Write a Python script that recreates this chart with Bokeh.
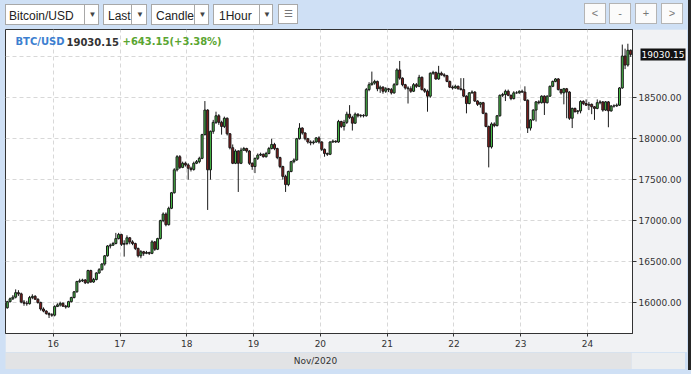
import pandas as pd
from bokeh.plotting import figure
from bokeh.models import (ColumnDataSource, Range1d, FixedTicker, NumeralTickFormatter,
                          DatetimeTickFormatter, Label, Div, LinearAxis)
from bokeh.layouts import column
from bokeh.embed import file_html
from bokeh.resources import INLINE

# ---------------- data (hourly BTC/USD candles) ----------------
first_time = "2020-11-15 07:00"
first_open = 15935
closes = [16010, 16045, 16065, 16120, 16105, 16005, 15990, 15985, 16060, 16075,
          16040, 16000, 15920, 15895, 15865, 15850, 15845, 15950, 15970, 15990,
          15955, 15945, 16010, 16060, 16130, 16255, 16265, 16275, 16240, 16390,
          16250, 16280, 16360, 16400, 16470, 16570, 16690, 16700, 16720, 16780,
          16830, 16710, 16720, 16790, 16740, 16720, 16660, 16570, 16620, 16600,
          16610, 16600, 16740, 16650, 16780, 17000, 17080, 16950, 17150, 17340,
          17620, 17780, 17650, 17700, 17680, 17640, 17625, 17700, 17720, 17760,
          18050, 18350, 17620, 18090, 18200, 18280, 18200, 18150, 18250, 18060,
          17890, 17700, 17850, 17700, 17860, 17880, 17850, 17700, 17660, 17760,
          17800, 17810, 17780, 17820, 17880, 17930, 17880, 17770, 17660, 17540,
          17440, 17600, 17720, 17740, 18000, 18130, 18070, 18000, 17960, 17950,
          17960, 18010, 17960, 17870, 17820, 17810, 17960, 17970, 17960, 18210,
          18150, 18200, 18300, 18260, 18190, 18300, 18280, 18285, 18280, 18600,
          18660, 18680, 18700, 18610, 18630, 18580, 18610, 18600, 18560, 18660,
          18840, 18740, 18660, 18620, 18610, 18580, 18660, 18640, 18750, 18600,
          18580, 18520, 18800, 18810, 18730, 18800, 18780, 18770, 18700, 18630,
          18620, 18640, 18610, 18600, 18520, 18430, 18560, 18570, 18460, 18420,
          18440, 18310, 18150, 17900, 18180, 18160, 18280, 18530, 18540, 18580,
          18530, 18490, 18560, 18560, 18580, 18570, 18470, 18130, 18230, 18350,
          18450, 18440, 18520, 18440, 18520, 18640, 18700, 18730, 18600, 18560,
          18610, 18570, 18250, 18370, 18330, 18340, 18455, 18430, 18410, 18420,
          18390, 18370, 18440, 18450, 18350, 18450, 18340, 18400, 18400, 18410,
          18620, 19010, 18900, 19080, 19030.15]
highs = [16020, 16060, 16090, 16160, 16150, 16120, 16030, 16020, 16080, 16100,
         16090, 16050, 16010, 15940, 15905, 15880, 15870, 15965, 15990, 16010,
         16000, 15970, 16020, 16070, 16140, 16265, 16290, 16290, 16285, 16400,
         16400, 16300, 16370, 16420, 16480, 16580, 16700, 16720, 16740, 16850,
         16850, 16840, 16760, 16820, 16800, 16760, 16730, 16670, 16640, 16630,
         16630, 16620, 16760, 16750, 16790, 17010, 17100, 17100, 17170, 17350,
         17640, 17800, 17800, 17720, 17720, 17700, 17660, 17720, 17740, 17780,
         18060, 18460, 18360, 18100, 18230, 18330, 18300, 18220, 18270, 18260,
         18070, 17930, 17870, 17860, 17890, 17900, 17890, 17860, 17710, 17770,
         17820, 17830, 17820, 17840, 17900, 18000, 17950, 17890, 17780, 17670,
         17560, 17610, 17730, 17760, 18010, 18190, 18140, 18080, 18010, 17980,
         17980, 18020, 18030, 17970, 17880, 17830, 17970, 17990, 17980, 18230,
         18220, 18230, 18330, 18410, 18280, 18320, 18310, 18300, 18300, 18620,
         18690, 18820, 18720, 18710, 18650, 18640, 18630, 18620, 18620, 18680,
         18860, 18950, 18750, 18670, 18640, 18640, 18680, 18680, 18780, 18760,
         18620, 18600, 18810, 18830, 18820, 18890, 18820, 18800, 18780, 18710,
         18650, 18660, 18650, 18740, 18740, 18530, 18570, 18590, 18580, 18470,
         18450, 18450, 18320, 18160, 18200, 18200, 18290, 18540, 18560, 18600,
         18600, 18540, 18580, 18580, 18590, 18600, 18640, 18480, 18240, 18360,
         18460, 18470, 18530, 18530, 18530, 18650, 18710, 18740, 18740, 18610,
         18620, 18620, 18580, 18380, 18380, 18350, 18470, 18470, 18480, 18450,
         18430, 18400, 18480, 18470, 18460, 18460, 18460, 18410, 18420, 18430,
         18630, 19150, 19100, 19160, 19090]
lows = [15925, 16000, 16030, 16050, 16080, 15990, 15960, 15960, 15975, 16040,
        16030, 15985, 15900, 15880, 15850, 15810, 15825, 15830, 15945, 15950,
        15945, 15925, 15940, 16000, 16050, 16120, 16240, 16250, 16225, 16230,
        16240, 16240, 16270, 16350, 16390, 16450, 16560, 16660, 16690, 16710,
        16770, 16690, 16560, 16700, 16710, 16700, 16640, 16550, 16540, 16570,
        16590, 16580, 16590, 16630, 16640, 16770, 16980, 16930, 16940, 17140,
        17330, 17600, 17630, 17640, 17660, 17500, 17600, 17610, 17690, 17700,
        17750, 18040, 17130, 17500, 18060, 18180, 18170, 18050, 18130, 18040,
        17870, 17690, 17690, 17350, 17690, 17850, 17830, 17680, 17620, 17580,
        17740, 17790, 17770, 17770, 17810, 17870, 17860, 17750, 17640, 17500,
        17350, 17420, 17590, 17700, 17730, 17990, 18050, 17980, 17940, 17920,
        17930, 17950, 17940, 17850, 17780, 17790, 17800, 17950, 17950, 17950,
        18130, 18100, 18180, 18240, 18100, 18180, 18260, 18260, 18260, 18270,
        18580, 18650, 18660, 18580, 18560, 18550, 18560, 18570, 18540, 18550,
        18650, 18720, 18640, 18600, 18430, 18560, 18570, 18620, 18630, 18590,
        18560, 18330, 18500, 18780, 18720, 18720, 18770, 18750, 18690, 18620,
        18600, 18610, 18600, 18590, 18510, 18310, 18420, 18550, 18450, 18400,
        18380, 18300, 18140, 17650, 17880, 18140, 18150, 18270, 18510, 18460,
        18520, 18470, 18480, 18550, 18550, 18560, 18460, 18070, 18100, 18220,
        18210, 18420, 18430, 18290, 18430, 18510, 18630, 18690, 18590, 18540,
        18420, 18250, 18230, 18130, 18320, 18300, 18310, 18410, 18400, 18350,
        18300, 18230, 18360, 18420, 18330, 18340, 18140, 18330, 18380, 18390,
        18400, 18610, 18850, 18880, 19000]
opens = [first_open] + closes[:-1]

y_ticks = [16000, 16500, 17000, 17500, 18000, 18500]
grid_levels = [16000, 16500, 17000, 17500, 18000, 18500, 19000]
day_ticks = ["2020-11-%02d" % d for d in range(16, 25)]
symbol = "BTC/USD"
last_price = 19030.15
change_text = "+643.15(+3.38%)"
month_text = "Nov/2020"

# ---------------- colours ----------------
BLUE = "#cfe0f5"
BORDER_GRAY = "#f1f2f4"
BAND_GRAY = "#e2e3e5"
UP = "#46b946"
DOWN = "#8b1c1c"
EDGE = "#1a1a1a"
FONT = "DejaVu Sans"

times = pd.date_range(first_time, periods=len(closes), freq="h") + pd.Timedelta(minutes=30)
src = ColumnDataSource(dict(
    x=times,
    high=highs, low=lows,
    top=[max(o, c) for o, c in zip(opens, closes)],
    bottom=[min(o, c) for o, c in zip(opens, closes)],
    color=[UP if c >= o else DOWN for o, c in zip(opens, closes)],
))

x_start = pd.Timestamp("2020-11-15 06:51")
x_end = pd.Timestamp("2020-11-24 16:10")
y_lo, y_hi = 15621, 19334

p = figure(frame_width=627, frame_height=304, x_axis_type="datetime", y_axis_location="right",
           x_range=Range1d(x_start, x_end), y_range=Range1d(y_lo, y_hi),
           output_backend="svg", toolbar_location=None,
           min_border_left=0, min_border_top=0, min_border_right=53, min_border_bottom=19,
           border_fill_color=BORDER_GRAY, background_fill_color="white",
           outline_line_color="#333333", outline_line_width=1, margin=(0, 6, 0, 5))

p.segment(x0="x", y0="high", x1="x", y1="low", source=src, line_color=EDGE, line_width=1)
p.vbar(x="x", width=0.72 * 3600 * 1000, top="top", bottom="bottom", source=src,
       fill_color="color", line_color=EDGE, line_width=1)

day_ms = [pd.Timestamp(d).value // 10**6 for d in day_ticks]
p.xaxis.ticker = FixedTicker(ticks=day_ms)
p.xaxis.formatter = DatetimeTickFormatter(days="%d", hours="%d", months="%d")
p.yaxis.ticker = FixedTicker(ticks=y_ticks)
p.yaxis.formatter = NumeralTickFormatter(format="0.00")
p.xgrid.ticker = FixedTicker(ticks=day_ms)
p.ygrid.ticker = FixedTicker(ticks=grid_levels)
for g in (p.xgrid, p.ygrid):
    g.grid_line_color = "#d8d8d8"
    g.grid_line_dash = "4 3"
    g.grid_line_width = 1
for ax in (p.xaxis, p.yaxis):
    ax.axis_line_color = "#333333"
    ax.major_tick_line_color = "#333333"
    ax.minor_tick_line_color = None
    ax.major_tick_in = 0
    ax.major_label_text_font = FONT
    ax.major_label_text_font_size = "9px"
    ax.major_label_text_color = "#333333"
p.xaxis.major_tick_out = 3
p.xaxis.major_label_standoff = 3
p.yaxis.major_tick_out = 4
p.yaxis.major_label_standoff = 2

# last-price marker: a second right axis whose single thick tick forms the black box
price_axis = LinearAxis(ticker=FixedTicker(ticks=[last_price]),
                        formatter=NumeralTickFormatter(format="0.00"))
price_axis.axis_line_color = None
price_axis.minor_tick_line_color = None
price_axis.major_tick_line_color = "#111111"
price_axis.major_tick_line_width = 12
price_axis.major_tick_in = 44
price_axis.major_tick_out = 1
price_axis.major_label_standoff = -44
price_axis.major_label_text_font = FONT
price_axis.major_label_text_font_size = "9px"
price_axis.major_label_text_color = "white"
p.add_layout(price_axis, "right")

# legend texts (top-left)
start_ms = x_start.value // 10**6
for txt, dx, col in ((symbol, 10, "#3d7fd0"), ("%.2f" % last_price, 61, "#333333"),
                     (change_text, 117, "#5aa531")):
    p.add_layout(Label(x=start_ms, y=y_hi, x_offset=dx, y_offset=-12, text=txt,
                       text_font=FONT, text_font_size="10px", text_font_style="bold",
                       text_color=col, text_baseline="middle", text_align="left"))

# month band below the axis
band = figure(frame_width=626, frame_height=17, x_range=Range1d(0, 1), y_range=Range1d(0, 1),
              x_axis_location=None, y_axis_location=None, output_backend="svg",
              toolbar_location=None, min_border_left=0, min_border_top=0,
              min_border_right=54, min_border_bottom=0, outline_line_color=None,
              background_fill_color=BAND_GRAY, border_fill_color="#eceef0",
              margin=(0, 6, 5, 5))
band.grid.visible = False
band.add_layout(Label(x=0.5, y=0.5, x_offset=-3, text=month_text, text_font=FONT,
                      text_font_size="9px", text_color="#333333",
                      text_baseline="middle", text_align="center"))

# toolbar (drop-downs and buttons)
def select_box(left, width, label, divider, text_left):
    return (
        f'<div style="position:absolute;left:{left}px;top:4px;width:{width}px;height:21px;'
        f'box-sizing:border-box;border:1px solid #a8a8a8;background:#fff;overflow:hidden;">'
        f'<span style="position:absolute;left:{text_left}px;top:3px;white-space:nowrap;">{label}</span>'
        f'<div style="position:absolute;left:{divider}px;top:0;width:{width - divider}px;height:19px;'
        f'background:#fff;border-left:1px solid #a8a8a8;text-align:center;font-size:8px;'
        f'line-height:19px;color:#444;">&#9660;</div></div>'
    )

def button(left, label):
    return (
        f'<div style="position:absolute;left:{left}px;top:3px;width:22px;height:21px;'
        f'box-sizing:border-box;border:1px solid #b4b4b4;background:#fbfbfb;text-align:center;'
        f'line-height:18px;font-size:11px;color:#777;">{label}</div>'
    )

html = (
    '<div style="position:relative;width:691px;height:29px;'
    'font-family:\'Liberation Sans\',Arial,sans-serif;font-size:12px;color:#222;">'
    + select_box(5, 94, "Bitcoin/USD", 78, 3)
    + select_box(103, 44, "Last", 27, 4)
    + select_box(151, 58, "Candle", 42, 4)
    + select_box(213, 60, "1Hour", 45, 5)
    + '<div style="position:absolute;left:278px;top:4px;width:20px;height:20px;box-sizing:border-box;'
      'border:1px solid #a8a8a8;background:#fff;text-align:center;font-size:10px;line-height:18px;'
      'color:#777;">&#9776;</div>'
    + button(584, "&lt;") + button(609, "-") + button(635, "+") + button(661, "&gt;")
    + '</div>'
)
toolbar = Div(text=html, width=691, height=29, margin=(0, 0, 0, 0))

layout = column(toolbar, p, band, width=691, height=374, spacing=0,
                styles={"background": f"linear-gradient(to right, {BLUE} 688px, #262626 688px) "
                                      f"0 0 / 100% 370px no-repeat, {BLUE}"})

open("out.html", "w").write(file_html(layout, INLINE))
